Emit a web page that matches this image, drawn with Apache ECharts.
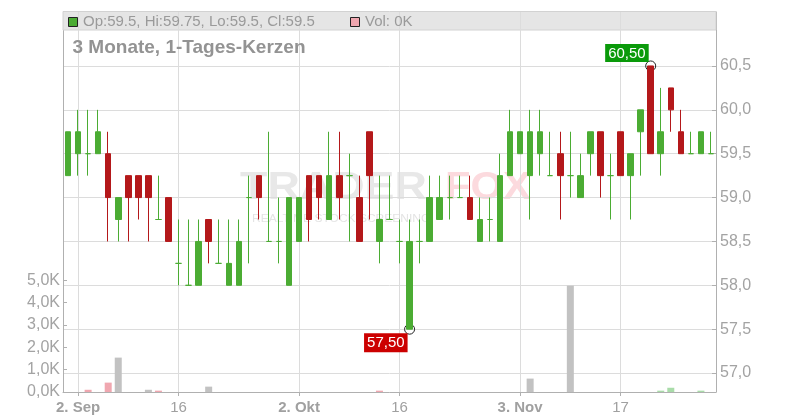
<!DOCTYPE html>
<html><head><meta charset="utf-8">
<script src="https://cdn.jsdelivr.net/npm/echarts@6/dist/echarts.min.js"></script>
<style>html,body{margin:0;padding:0;background:#fff}#c{width:800px;height:420px}</style>
</head><body><div id="c"></div>
<script>
const categories = [
 '2025-09-01','2025-09-02','2025-09-03','2025-09-04','2025-09-05','2025-09-08','2025-09-09','2025-09-10','2025-09-11','2025-09-12',
 '2025-09-15','2025-09-16','2025-09-17','2025-09-18','2025-09-19','2025-09-22','2025-09-23','2025-09-24','2025-09-25','2025-09-26',
 '2025-09-29','2025-09-30','2025-10-01','2025-10-02','2025-10-03','2025-10-06','2025-10-07','2025-10-08','2025-10-09','2025-10-10',
 '2025-10-13','2025-10-14','2025-10-15','2025-10-16','2025-10-17','2025-10-20','2025-10-21','2025-10-22','2025-10-23','2025-10-24',
 '2025-10-27','2025-10-28','2025-10-29','2025-10-30','2025-10-31','2025-11-03','2025-11-04','2025-11-05','2025-11-06','2025-11-07',
 '2025-11-10','2025-11-11','2025-11-12','2025-11-13','2025-11-14','2025-11-17','2025-11-18','2025-11-19','2025-11-20','2025-11-21',
 '2025-11-24','2025-11-25','2025-11-26','2025-11-27','2025-11-28'];
const opens = [
 59.25,59.5,59.5,59.5,59.5,58.75,59.25,59.25,59.25,58.75,
 59.0,58.25,58.0,58.0,58.75,58.25,58.0,58.0,59.0,59.25,
 58.5,58.5,58.0,58.5,59.25,59.25,58.75,59.25,59.25,59.0,
 59.75,58.5,58.75,58.5,57.5,58.5,58.5,58.75,59.0,59.0,
 59.0,58.5,58.75,58.5,59.25,59.5,59.25,59.5,59.25,59.5,
 59.25,59.0,59.5,59.75,59.25,59.75,59.25,59.75,60.5,59.5,
 60.25,59.75,59.5,59.5,59.5];
const highs = [
 59.75,60.0,60.0,60.0,59.75,59.0,59.25,59.25,59.25,59.25,
 59.0,58.75,58.75,58.75,58.75,58.75,58.75,58.75,59.25,59.25,
 59.75,59.0,59.0,59.0,59.25,59.25,59.75,59.75,59.5,59.25,
 59.75,59.25,59.25,58.75,58.75,58.75,59.25,59.25,59.25,59.25,
 59.25,59.0,59.0,59.5,60.0,59.75,60.0,60.0,59.75,59.75,
 59.75,59.5,59.75,59.75,59.5,59.75,59.5,60.0,60.5,60.25,
 60.25,60.0,59.75,59.75,59.75];
const lows = [
 59.25,59.25,59.25,59.5,58.5,58.5,58.5,58.75,58.5,58.75,
 58.5,58.0,58.0,58.0,58.25,58.25,58.0,58.0,58.25,58.75,
 58.5,58.25,58.0,58.5,58.5,58.75,58.75,58.75,58.5,58.5,
 58.75,58.25,58.75,58.25,57.5,58.25,58.5,58.75,58.75,59.0,
 58.75,58.5,58.5,58.5,59.25,59.5,58.75,59.25,59.25,58.75,
 59.0,59.0,59.25,59.0,58.75,59.25,58.75,59.25,59.5,59.25,
 59.75,59.5,59.5,59.5,59.5];
const closes = [
 59.75,59.75,59.5,59.75,59.0,59.0,59.0,59.0,59.0,58.75,
 58.5,58.25,58.0,58.5,58.5,58.25,58.25,58.5,59.0,59.0,
 58.5,58.5,59.0,59.0,58.75,59.0,59.25,59.0,59.25,58.5,
 59.25,58.75,58.75,58.5,58.5,58.5,59.0,59.0,59.0,59.0,
 58.75,58.75,58.75,59.25,59.75,59.75,59.75,59.75,59.25,59.25,
 59.25,59.25,59.75,59.25,59.25,59.25,59.5,60.0,59.5,59.75,
 60.0,59.5,59.5,59.75,59.5];
const volumes = [
 0,0,100,0,420,1540,0,0,100,60,
 0,0,0,0,240,0,0,0,0,0,
 0,0,0,0,0,0,0,0,0,0,
 0,60,0,0,0,0,0,0,0,0,
 0,0,0,0,0,0,600,0,0,0,
 4760,0,0,0,0,0,0,0,0,60,
 190,0,0,60,0];
const tickIndex = [1,11,23,33,45,55];
const tickLabels = ['2. Sep','16','2. Okt','16','3. Nov','17'];
const priceTicks = [57.0,57.5,58.0,58.5,59.0,59.5,60.0,60.5];
const volumeTicks = [0,1000,2000,3000,4000,5000];

const UP = '#4bac33', DOWN = '#b4181a';
const FONT = "'Liberation Sans', Arial, sans-serif";
const GRID = {left: 63, right: 84, top: 12, bottom: 28};
const isTick = (i) => tickIndex.indexOf(i) >= 0;

const n = categories.length - 1;
const headerText = 'Op:' + opens[n] + ', Hi:' + highs[n] + ', Lo:' + lows[n] + ', Cl:' + closes[n];
const volText = 'Vol: ' + Math.round(volumes[n] / 1000) + 'K';

const candleData = categories.map((_, i) => [opens[i], closes[i], lows[i], highs[i]]);
const volData = volumes.map((v, i) => {
  let c = '#c2c2c2';
  if (i > 0 && closes[i] > closes[i - 1]) c = '#a9dca9';
  else if (i > 0 && closes[i] < closes[i - 1]) c = '#f0a7b0';
  return {value: v, itemStyle: {color: c}};
});

const chart = echarts.init(document.getElementById('c'), null, {renderer: 'canvas'});
chart.setOption({
  animation: false,
  textStyle: {fontFamily: FONT},
  grid: [
    {left: GRID.left, right: GRID.right, top: GRID.top, bottom: GRID.bottom},
    {left: GRID.left, right: GRID.right, top: 280.3, bottom: GRID.bottom}
  ],
  xAxis: [
    {
      type: 'category', gridIndex: 0, data: categories, boundaryGap: true, z: 2,
      axisLine: {lineStyle: {color: '#b0b0b0'}},
      axisTick: {show: true, alignWithLabel: true, interval: (i) => isTick(i), length: 4, lineStyle: {color: '#b0b0b0'}},
      axisLabel: {
        interval: (i) => isTick(i), margin: 8, fontSize: 15, color: '#a0a0a0', fontFamily: FONT,
        formatter: (v, i) => {
          const k = tickIndex.indexOf(i);
          if (k < 0) return '';
          const t = tickLabels[k];
          return t.indexOf('.') >= 0 ? '{b|' + t + '}' : '{n|' + t + '}';
        },
        rich: {
          b: {fontWeight: 'bold', fontSize: 15, color: '#a0a0a0', fontFamily: FONT},
          n: {fontSize: 15, color: '#a0a0a0', fontFamily: FONT}
        }
      },
      splitLine: {show: true, alignWithLabel: true, interval: (i) => isTick(i), lineStyle: {color: '#dcdcdc'}}
    },
    {type: 'category', gridIndex: 1, data: categories, boundaryGap: true, show: false}
  ],
  yAxis: [
    {
      type: 'value', gridIndex: 0, position: 'right', min: 56.784, max: 61.115, splitNumber: 8, z: 0,
      axisLine: {show: true, lineStyle: {color: '#b0b0b0'}},
      axisTick: {show: true, inside: true, length: 4, lineStyle: {color: '#b0b0b0'}},
      axisLabel: {
        margin: 4, fontSize: 16, color: '#a3a3a3', fontFamily: FONT,
        formatter: (v) => priceTicks.some(t => Math.abs(t - v) < 1e-6) ? v.toFixed(1).replace('.', ',') : ''
      },
      splitLine: {show: true, lineStyle: {color: '#dcdcdc'}}
    },
    {
      type: 'value', gridIndex: 0, position: 'left', min: 0, max: 1, z: 0,
      axisLine: {show: true, lineStyle: {color: '#b0b0b0'}},
      axisTick: {show: false}, axisLabel: {show: false}, splitLine: {show: false}
    },
    {
      type: 'value', gridIndex: 1, position: 'left', min: volumeTicks[0], max: volumeTicks[volumeTicks.length - 1], interval: 1000,
      axisLine: {show: false},
      axisTick: {show: true, inside: true, length: 4, lineStyle: {color: '#b0b0b0'}},
      axisLabel: {
        margin: 3, fontSize: 16, color: '#a3a3a3', fontFamily: FONT,
        formatter: (v) => (v / 1000).toFixed(1).replace('.', ',') + 'K'
      },
      splitLine: {show: false}
    }
  ],
  graphic: [
    {type: 'rect', z: 1, shape: {x: 63, y: 11.5, width: 653, height: 18.5}, style: {fill: '#e5e5e5', stroke: '#d2d2d2', lineWidth: 1}},
    {type: 'rect', z: 3, shape: {x: 68.5, y: 17.5, width: 9, height: 9}, style: {fill: UP, stroke: '#222', lineWidth: 1}},
    {type: 'text', z: 3, x: 83, y: 22, style: {text: headerText, fill: '#9a9a9a', font: '15px ' + FONT, verticalAlign: 'middle'}},
    {type: 'rect', z: 3, shape: {x: 350.5, y: 17.5, width: 9, height: 9}, style: {fill: '#f0a7b0', stroke: '#222', lineWidth: 1}},
    {type: 'text', z: 3, x: 365, y: 22, style: {text: volText, fill: '#9a9a9a', font: '15px ' + FONT, verticalAlign: 'middle'}},
    {type: 'text', z: 3, x: 72.5, y: 48, style: {text: '3 Monate, 1-Tages-Kerzen', fill: '#939393', font: 'bold 19px ' + FONT, verticalAlign: 'middle'}},
    {type: 'text', z: 0, x: 240, y: 189, scaleX: 1.18, style: {text: 'TRADER', fill: '#e8e8e8', font: 'bold 38px ' + FONT, verticalAlign: 'middle'}},
    {type: 'text', z: 0, x: 445, y: 189, scaleX: 1.1, style: {text: 'FOX', fill: '#fcdade', font: 'bold 38px ' + FONT, verticalAlign: 'middle'}},
    {type: 'text', z: 0, x: 252, y: 219, scaleX: 1.2, style: {text: 'REALTIME STOCK SCREENING', fill: '#e4e4e4', font: '10px ' + FONT, verticalAlign: 'middle'}}
  ],
  series: [
    {
      type: 'candlestick', name: 'Kurs', xAxisIndex: 0, yAxisIndex: 0, z: 5, barWidth: 6,
      data: candleData,
      itemStyle: {color: UP, color0: DOWN, borderColor: UP, borderColor0: DOWN, borderColorDoji: UP, borderWidth: 1},
      markPoint: {
        symbol: 'circle', symbolSize: 10, silent: true,
        itemStyle: {color: 'rgba(255,255,255,0)', borderColor: '#222', borderWidth: 1},
        data: [
          {type: 'max', valueDim: 'highest',
           label: {show: true, position: 'inside', align: 'right', verticalAlign: 'bottom', offset: [-2, -4],
                   backgroundColor: '#0a9a0a', color: '#fff', fontSize: 15, fontFamily: FONT, padding: [2, 3, 1, 3],
                   formatter: (p) => Number(p.value).toFixed(2).replace('.', ',')}},
          {type: 'min', valueDim: 'lowest',
           label: {show: true, position: 'inside', align: 'right', verticalAlign: 'top', offset: [-2, 4],
                   backgroundColor: '#cc0000', color: '#fff', fontSize: 15, fontFamily: FONT, padding: [2, 3, 2, 3],
                   formatter: (p) => Number(p.value).toFixed(2).replace('.', ',')}}
        ]
      }
    },
    {
      type: 'bar', name: 'Vol', xAxisIndex: 1, yAxisIndex: 2, z: 5, barWidth: 7,
      data: volData
    }
  ]
});
</script>
</body></html>
